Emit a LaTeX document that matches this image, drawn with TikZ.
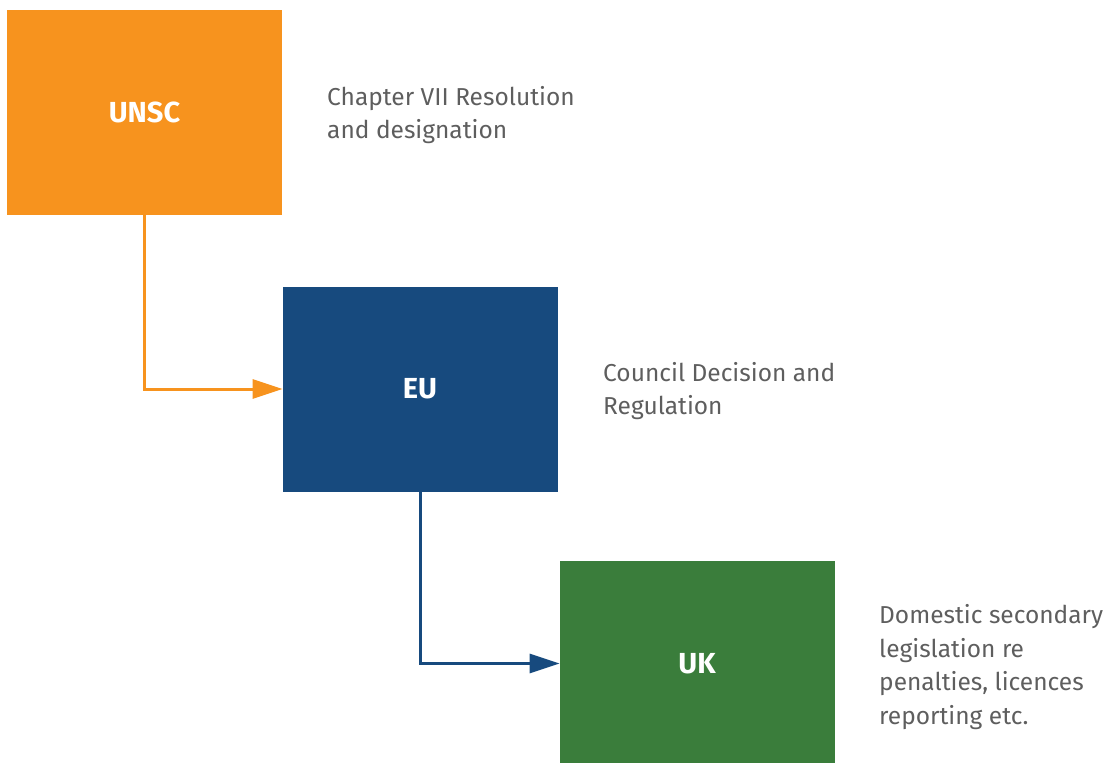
\documentclass[tikz,border=0pt]{standalone}
\usepackage{fontspec}
\setmainfont{Fira Sans}
\usetikzlibrary{arrows.meta}
\definecolor{unscorange}{HTML}{F7931E}
\definecolor{eublue}{HTML}{174A7E}
\definecolor{ukgreen}{HTML}{3A7D3B}
\definecolor{notegray}{HTML}{5E5E5E}

\begin{document}
\begin{tikzpicture}[x=1pt, y=-1pt,
  body/.style={minimum width=275pt, minimum height=205pt, inner sep=0pt, outer sep=0pt,
    text=white, font=\fontsize{29}{33}\selectfont\bfseries},
  note/.style={anchor=west, align=left, inner sep=0pt, text=notegray,
    font=\fontsize{24.5}{33.7}\selectfont},
  link/.style={line width=3pt, -{Triangle[length=30pt, width=19pt]}}]
\useasboundingbox (0,0) rectangle (1109,763);
\clip (0,0) rectangle (1109,763);

\node[body, fill=unscorange] (unsc) at (144.5,112.5) {UNSC};
\node[body, fill=eublue] (eu) at (420,389) {EU};
\node[body, fill=ukgreen] (uk) at (697,663.5) {UK};

\node[note] (unscnote) at (327,115) {Chapter VII Resolution\\and designation};
\node[note] (eunote) at (603,391) {Council Decision and\\Regulation};
\node[note] (uknote) at (879,667) {Domestic secondary\\legislation re\\penalties, licences\\reporting etc.};

\draw[link, unscorange] (unsc.south) |- (eu.west);
\draw[link, eublue] (eu.south) |- (uk.west);
\end{tikzpicture}
\end{document}
